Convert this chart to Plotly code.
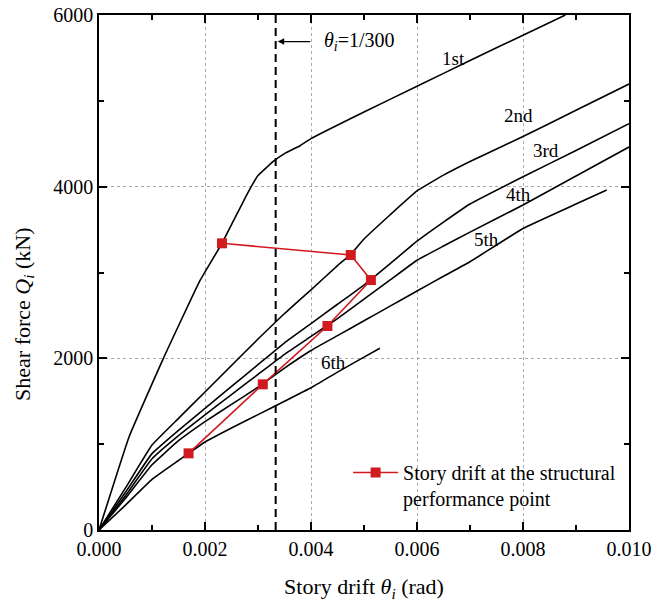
import plotly.graph_objects as go

# ---- data ----
x_1st = [0, 0.00057, 0.0012, 0.0019, 0.00232, 0.0028, 0.003, 0.0033, 0.0035, 0.0038, 0.004, 0.005, 0.006, 0.007, 0.008, 0.0088]
y_1st = [0, 1090, 1980, 2900, 3340, 3920, 4130, 4300, 4385, 4480, 4560, 4870, 5170, 5470, 5765, 6000]

x_2nd = [0, 0.0005, 0.001, 0.0015, 0.002, 0.0025, 0.003, 0.0035, 0.004, 0.0045, 0.00475, 0.005, 0.0055, 0.006, 0.0065, 0.007, 0.008, 0.009, 0.01]
y_2nd = [0, 490, 990, 1301, 1608, 1916, 2225, 2522, 2797, 3081, 3210, 3390, 3676, 3950, 4134, 4293, 4584, 4890, 5196]

x_3rd = [0, 0.0005, 0.001, 0.0015, 0.002, 0.0025, 0.003, 0.0035, 0.004, 0.0045, 0.005, 0.0055, 0.006, 0.0065, 0.007, 0.008, 0.009, 0.01]
y_3rd = [0, 440, 890, 1161, 1417, 1672, 1926, 2181, 2405, 2630, 2854, 3106, 3365, 3587, 3798, 4115, 4422, 4734]

x_4th = [0, 0.0005, 0.001, 0.0015, 0.002, 0.0025, 0.003, 0.0035, 0.004, 0.0045, 0.005, 0.0055, 0.006, 0.0065, 0.007, 0.008, 0.009, 0.01]
y_4th = [0, 400, 830, 1100, 1342, 1578, 1813, 2047, 2255, 2463, 2689, 2916, 3143, 3308, 3470, 3786, 4124, 4462]

x_5th = [0, 0.0005, 0.001, 0.0015, 0.002, 0.0025, 0.003, 0.0035, 0.004, 0.0045, 0.005, 0.0055, 0.006, 0.0065, 0.007, 0.008, 0.009, 0.00958]
y_5th = [0, 370, 760, 1040, 1263, 1463, 1664, 1886, 2091, 2264, 2437, 2611, 2784, 2956, 3125, 3513, 3798, 3961]

x_6th = [0, 0.0005, 0.001, 0.0015, 0.002, 0.0025, 0.003, 0.0035, 0.004, 0.0045, 0.005, 0.0053]
y_6th = [0, 290, 590, 810, 1025, 1188, 1344, 1500, 1657, 1840, 2014, 2117]

story_labels = ["1st", "2nd", "3rd", "4th", "5th", "6th"]
label_x = [0.00668, 0.00791, 0.00843, 0.00791, 0.00732, 0.00443]
label_y = [5499, 4835, 4427, 3903, 3379, 1957]

perf_x = [0.00232, 0.00475, 0.00513, 0.00431, 0.00309, 0.00169]
perf_y = [3340, 3204, 2912, 2377, 1697, 893]

drift_limit = 1 / 300
x_ticks = [0.000, 0.002, 0.004, 0.006, 0.008, 0.010]
y_ticks = [0, 2000, 4000, 6000]

FONT = "Liberation Serif, Times New Roman, serif"

fig = go.Figure()
curves = [(x_1st, y_1st), (x_2nd, y_2nd), (x_3rd, y_3rd), (x_4th, y_4th), (x_5th, y_5th), (x_6th, y_6th)]
for (cx, cy), name in zip(curves, story_labels):
    fig.add_trace(go.Scatter(x=cx, y=cy, mode="lines", name=name, showlegend=False,
                             line=dict(color="black", width=1.6, shape="spline", smoothing=0.3),
                             hoverinfo="skip"))

fig.add_trace(go.Scatter(x=perf_x, y=perf_y, mode="lines+markers",
                         name="Story drift at the structural<br>performance point",
                         line=dict(color="#d11a1f", width=1.6),
                         marker=dict(symbol="square", size=10, color="#d11a1f")))

for t, lx, ly in zip(story_labels, label_x, label_y):
    fig.add_annotation(x=lx, y=ly, text=t, showarrow=False,
                       font=dict(family=FONT, size=19, color="black"))

# dashed limit line
fig.add_shape(type="line", x0=drift_limit, x1=drift_limit, y0=0, y1=6000,
              xref="x", yref="y", line=dict(color="black", width=2, dash="8px,5px"))
# arrow
fig.add_annotation(x=drift_limit, y=5690, ax=36, ay=0, text="", showarrow=True,
                   arrowhead=2, arrowsize=1, arrowwidth=1.3, arrowcolor="black", standoff=2)
fig.add_annotation(x=drift_limit, y=5690, xshift=46, xanchor="left", yanchor="middle",
                   text="<i>θ</i><sub><i>i</i></sub>=1/300", showarrow=False,
                   font=dict(family=FONT, size=20, color="black"))

# y-axis title (placed as rotated text, as in the reference it sits slightly below centre)
fig.add_annotation(xref="paper", yref="paper", x=-0.143, y=0.42, textangle=-90,
                   text="Shear force <i>Q</i><sub><i>i</i></sub> (kN)", showarrow=False,
                   xanchor="center", yanchor="middle",
                   font=dict(family=FONT, size=22, color="black"))

axis_common = dict(showline=True, linecolor="black", linewidth=1.5, mirror="ticks",
                   ticks="inside", ticklen=8, tickwidth=1.5, tickcolor="black",
                   showgrid=True, gridcolor="#aaaaaa", gridwidth=1, griddash="3px,3px",
                   zeroline=False, automargin=False,
                   tickfont=dict(family=FONT, size=20, color="black"))

fig.update_xaxes(range=[0, 0.01], tickvals=x_ticks, tickformat=".3f",
                 minor=dict(dtick=0.001, ticks="inside", ticklen=5, tickwidth=1.5, tickcolor="black", showgrid=False),
                 title=dict(text="Story drift <i>θ</i><sub><i>i</i></sub> (rad)", standoff=20,
                            font=dict(family=FONT, size=22, color="black")),
                 **axis_common)
fig.update_yaxes(range=[0, 6000], tickvals=y_ticks,
                 minor=dict(dtick=1000, ticks="inside", ticklen=5, tickwidth=1.5, tickcolor="black", showgrid=False),
                 **axis_common)

fig.update_layout(width=654, height=607, margin=dict(l=99, r=25, t=15, b=77),
                  plot_bgcolor="white", paper_bgcolor="white",
                  font=dict(family=FONT, size=20, color="black"),
                  legend=dict(x=0.47, y=0.1495, xanchor="left", yanchor="top",
                              bgcolor="rgba(0,0,0,0)", borderwidth=0, valign="top",
                              itemwidth=45,
                              font=dict(family=FONT, size=20, color="black")))

fig.write_html("out.html")
